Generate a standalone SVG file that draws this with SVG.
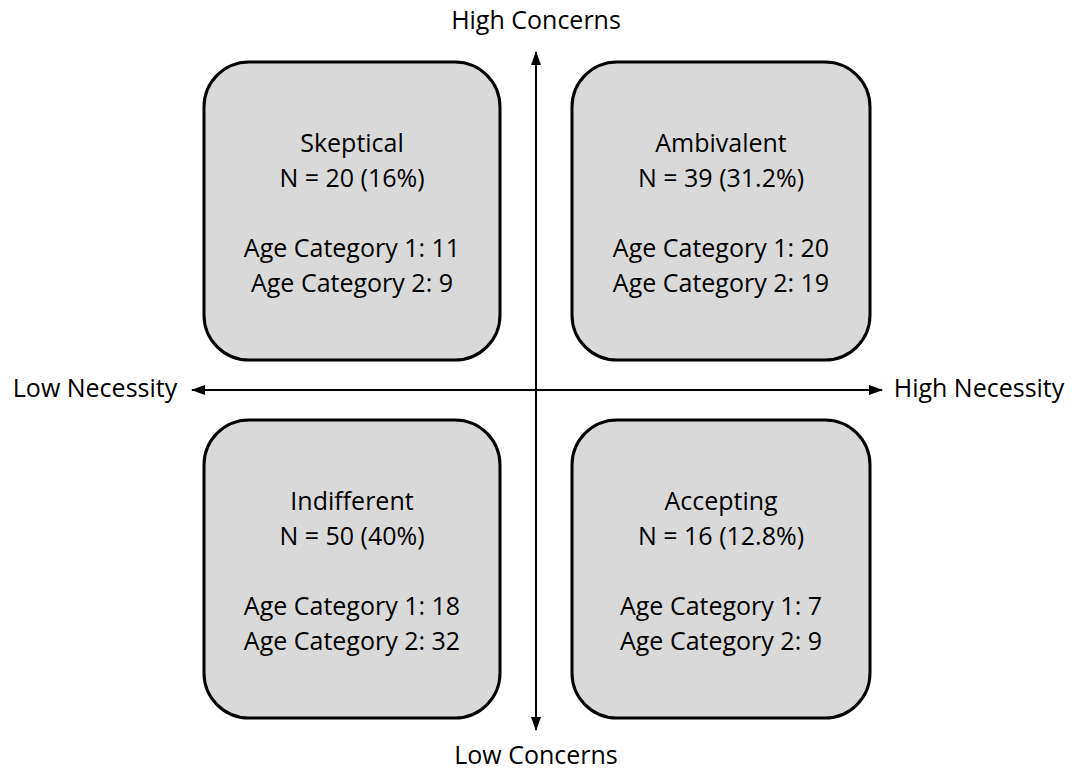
<svg xmlns="http://www.w3.org/2000/svg" width="1074" height="771" viewBox="0 0 1074 771">
<style>
.box{fill:#d9d9d9;stroke:#000;stroke-width:3}
.t{font-family:"Open Sans","Noto Sans",sans-serif;font-size:25px;fill:#000;text-anchor:middle}
.ax{stroke:#000;stroke-width:2;fill:none}
</style>
<defs>
<marker id="ah" viewBox="0 0 14 10" refX="13" refY="5" markerWidth="14" markerHeight="10" markerUnits="userSpaceOnUse" orient="auto-start-reverse">
<path d="M0,0 L14,5 L0,10 Z" fill="#000"/>
</marker>
</defs>
<rect width="1074" height="771" fill="#fff"/>
<g id="connectors">
<line class="ax" x1="536" y1="52" x2="536" y2="730" marker-start="url(#ah)" marker-end="url(#ah)"/>
<line class="ax" x1="192" y1="390" x2="882" y2="390" marker-start="url(#ah)" marker-end="url(#ah)"/>
</g>
<g id="skeptical">
<rect class="box" x="204" y="62" width="296" height="298" rx="45"/>
<text class="t" x="352" y="152">Skeptical</text>
<text class="t" x="352" y="187">N = 20 (16%)</text>
<text class="t" x="352" y="257">Age Category 1: 11</text>
<text class="t" x="352" y="292">Age Category 2: 9</text>
</g>
<g id="ambivalent">
<rect class="box" x="572" y="62" width="298" height="298" rx="45"/>
<text class="t" x="721" y="152">Ambivalent</text>
<text class="t" x="721" y="187">N = 39 (31.2%)</text>
<text class="t" x="721" y="257">Age Category 1: 20</text>
<text class="t" x="721" y="292">Age Category 2: 19</text>
</g>
<g id="indifferent">
<rect class="box" x="204" y="420" width="296" height="298" rx="45"/>
<text class="t" x="352" y="510">Indifferent</text>
<text class="t" x="352" y="545">N = 50 (40%)</text>
<text class="t" x="352" y="615">Age Category 1: 18</text>
<text class="t" x="352" y="650">Age Category 2: 32</text>
</g>
<g id="accepting">
<rect class="box" x="572" y="420" width="298" height="298" rx="45"/>
<text class="t" x="721" y="510">Accepting</text>
<text class="t" x="721" y="545">N = 16 (12.8%)</text>
<text class="t" x="721" y="615">Age Category 1: 7</text>
<text class="t" x="721" y="650">Age Category 2: 9</text>
</g>
<g id="labels">
<text class="t" x="536" y="29">High Concerns</text>
<text class="t" x="536" y="764">Low Concerns</text>
<text class="t" x="95" y="397">Low Necessity</text>
<text class="t" x="979" y="397">High Necessity</text>
</g>
</svg>
